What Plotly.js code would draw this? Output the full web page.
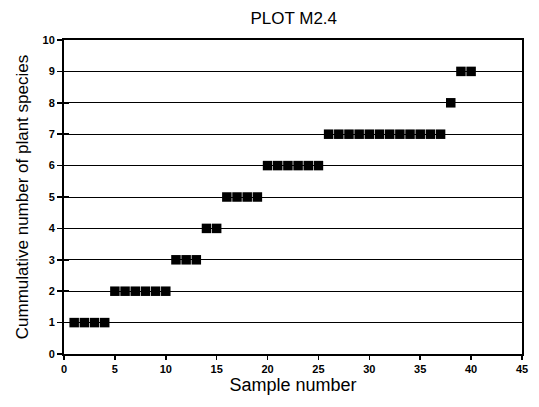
<!DOCTYPE html>
<html>
<head>
<meta charset="utf-8">
<script src="https://cdn.plot.ly/plotly-3.0.1.min.js"></script>
<style>html,body{margin:0;padding:0;background:#fff;}#chart{width:539px;height:407px;}</style>
</head>
<body>
<div id="chart"></div>
<script>
const sampleNumber = [1,2,3,4,5,6,7,8,9,10,11,12,13,14,15,16,17,18,19,20,21,22,23,24,25,26,27,28,29,30,31,32,33,34,35,36,37,38,39,40];
const cumulativeSpecies = [1,1,1,1,2,2,2,2,2,2,3,3,3,4,4,5,5,5,5,6,6,6,6,6,6,7,7,7,7,7,7,7,7,7,7,7,7,8,9,9];
const xTicks = [0,5,10,15,20,25,30,35,40,45];
const yTicks = [0,1,2,3,4,5,6,7,8,9,10];

const FONT = 'Liberation Sans, Arial, Helvetica, sans-serif';
const trace = {
  x: sampleNumber, y: cumulativeSpecies, type: 'scatter', mode: 'markers',
  marker: {symbol: 'square', size: 9.5, color: '#000'}, cliponaxis: false
};
// invisible helper trace for the inner tick half on y
const helper = {x: [0], y: [0], yaxis: 'y2', type: 'scatter', mode: 'markers', marker: {opacity: 0}, hoverinfo: 'skip'};
const layout = {
  width: 539, height: 407,
  margin: {l: 64, r: 17, t: 40, b: 53},
  paper_bgcolor: '#fff', plot_bgcolor: '#fff',
  showlegend: false,
  font: {family: FONT, color: '#000'},
  title: {text: 'PLOT M2.4', x: 0.545, xanchor: 'center', y: 0.955, yanchor: 'middle', font: {size: 17, color: '#000'}},
  xaxis: {
    range: [0, 45], tickvals: xTicks, ticktext: xTicks.map(String),
    showgrid: false, zeroline: false, showline: true, linecolor: '#000', linewidth: 2, mirror: true,
    ticks: 'outside', ticklen: 4, tickcolor: '#000', tickwidth: 1.5,
    tickfont: {size: 11, family: FONT, weight: 700},
    title: {text: 'Sample number', font: {size: 18}, standoff: 3}
  },
  yaxis: {
    range: [0, 10], tickvals: yTicks, ticktext: yTicks.map(String),
    showgrid: true, gridcolor: '#000', gridwidth: 1, zeroline: false,
    showline: true, linecolor: '#000', linewidth: 2, mirror: true,
    ticks: 'outside', ticklen: 5, tickcolor: '#000', tickwidth: 1.5,
    tickfont: {size: 11, family: FONT, weight: 700},
    title: {text: 'Cummulative number of plant species', font: {size: 17}, standoff: 10}
  },
  yaxis2: {
    overlaying: 'y', side: 'left', range: [0, 10], tickvals: yTicks, showticklabels: false,
    showgrid: false, zeroline: false, showline: false,
    ticks: 'inside', ticklen: 5, tickcolor: '#000', tickwidth: 1.5
  }
};
Plotly.newPlot('chart', [trace, helper], layout, {displayModeBar: false, staticPlot: true});
</script>
</body>
</html>
